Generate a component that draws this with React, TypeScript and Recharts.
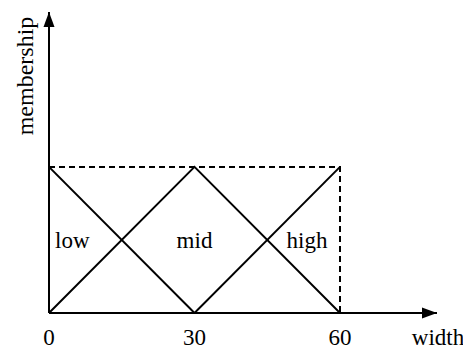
import { ComposedChart, Line, XAxis, YAxis, ReferenceDot } from 'recharts';

// membership functions (x = width, y = membership)
const lowPoints = [
  { x: 0, y: 1 },
  { x: 30, y: 0 },
];
const midPoints = [
  { x: 0, y: 0 },
  { x: 30, y: 1 },
  { x: 60, y: 0 },
];
const highPoints = [
  { x: 30, y: 0 },
  { x: 60, y: 1 },
];
const boundPoints = [
  { x: 0, y: 1 },
  { x: 60, y: 1 },
  { x: 60, y: 0 },
];

const xTicks = [0, 30, 60];
const setNames = ['low', 'mid', 'high'];
const setLabelX = [4.8, 30, 53.2];
const setLabelY = 0.5;

const xMax = 80;
const yMax = 2.06;
const FONT = 'Liberation Serif';

const RightArrow = (props: any) => {
  const { cx, cy } = props;
  return (
    <g>
      <path d={`M${cx},${cy} L${cx - 15},${cy - 5.5} L${cx - 15},${cy + 5.5} Z`} fill="#000" />
      <text x={cx + 1} y={cy + 32} textAnchor="middle" fontFamily={FONT} fontSize={23} fill="#000">
        width
      </text>
    </g>
  );
};

const UpArrow = (props: any) => {
  const { cx, cy } = props;
  return (
    <g>
      <path d={`M${cx},${cy} L${cx - 5.5},${cy + 15} L${cx + 5.5},${cy + 15} Z`} fill="#000" />
      <text
        x={cx - 16}
        y={cy + 64}
        textAnchor="middle"
        fontFamily={FONT}
        fontSize={24}
        fill="#000"
        transform={`rotate(-90 ${cx - 16} ${cy + 64})`}
      >
        membership
      </text>
    </g>
  );
};

const SetLabel = (name: string) => (props: any) => (
  <text x={props.cx} y={props.cy + 8} textAnchor="middle" fontFamily={FONT} fontSize={23} fill="#000">
    {name}
  </text>
);

export default function App() {
  return (
    <ComposedChart width={463} height={341} margin={{ top: 4, right: 34, bottom: 0, left: 0 }}>
      <XAxis
        type="number"
        dataKey="x"
        domain={[0, xMax]}
        ticks={xTicks}
        height={36}
        tickLine={false}
        tickMargin={10}
        axisLine={{ stroke: '#000', strokeWidth: 2 }}
        tick={{ fill: '#000', fontSize: 23, fontFamily: FONT }}
        allowDataOverflow
      />
      <YAxis
        type="number"
        dataKey="y"
        domain={[0, yMax]}
        width={41}
        tick={false}
        tickLine={false}
        axisLine={{ stroke: '#000', strokeWidth: 2 }}
        allowDataOverflow
      />
      <Line data={boundPoints} dataKey="y" type="linear" stroke="#000" strokeWidth={2} strokeDasharray="6 4" dot={false} isAnimationActive={false} />
      <Line data={lowPoints} dataKey="y" type="linear" stroke="#000" strokeWidth={2} dot={false} isAnimationActive={false} />
      <Line data={midPoints} dataKey="y" type="linear" stroke="#000" strokeWidth={2} dot={false} isAnimationActive={false} />
      <Line data={highPoints} dataKey="y" type="linear" stroke="#000" strokeWidth={2} dot={false} isAnimationActive={false} />
      {setNames.map((name, i) => (
        <ReferenceDot key={name} x={setLabelX[i]} y={setLabelY} ifOverflow="visible" shape={SetLabel(name)} />
      ))}
      <ReferenceDot x={xMax} y={0} ifOverflow="visible" shape={RightArrow} />
      <ReferenceDot x={0} y={yMax} ifOverflow="visible" shape={UpArrow} />
    </ComposedChart>
  );
}
